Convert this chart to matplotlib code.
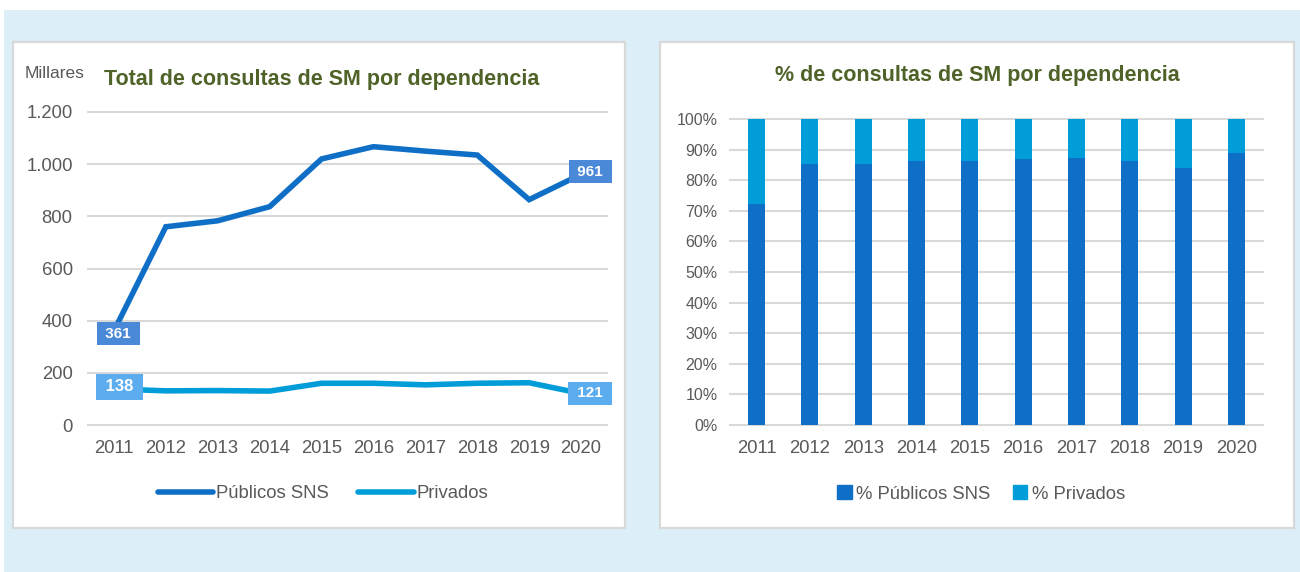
import matplotlib
matplotlib.use("Agg")
import matplotlib.pyplot as plt
from matplotlib.patches import Rectangle, Patch
from matplotlib.lines import Line2D

plt.rcParams['font.family'] = ['Liberation Sans', 'DejaVu Sans']

years = ['2011', '2012', '2013', '2014', '2015', '2016', '2017', '2018', '2019', '2020']
publicos = [361, 760, 783, 837, 1020, 1067, 1050, 1035, 864, 961]
privados = [138, 131, 132, 130, 160, 160, 154, 160, 162, 121]
pct_publicos = [72.3, 85.3, 85.4, 86.2, 86.3, 86.9, 87.2, 86.3, 84.1, 88.8]
pct_privados = [100 - v for v in pct_publicos]
left_yticks = [0, 200, 400, 600, 800, 1000, 1200]
left_yticklabels = ['0', '200', '400', '600', '800', '1.000', '1.200']
right_yticks = [0, 10, 20, 30, 40, 50, 60, 70, 80, 90, 100]
right_yticklabels = ['0%', '10%', '20%', '30%', '40%', '50%', '60%', '70%', '80%', '90%', '100%']

C_PUB = '#0F6FC6'
C_PRI = '#009DD9'
C_GRID = '#D9D9D9'
C_TXT = '#595959'
C_TITLE = '#4F6228'

W, H = 1300, 572
fig = plt.figure(figsize=(W / 100, H / 100), dpi=100)
fig.patch.set_facecolor('white')


def fx(px):
    return px / W


def fy(py):
    return 1 - py / H


# background
fig.add_artist(Rectangle((fx(4), 0), 1 - fx(4), fy(10), transform=fig.transFigure,
                         facecolor='#DCEEF8', edgecolor='none', zorder=-10))
# panels
for (x0, y0, x1, y1) in [(13, 42, 625, 528), (660, 42, 1294, 528)]:
    fig.add_artist(Rectangle((fx(x0), fy(y1)), fx(x1 - x0), (y1 - y0) / H,
                             transform=fig.transFigure, facecolor='white',
                             edgecolor=C_GRID, linewidth=1.6, zorder=-5))

# ---------------- left chart ----------------
ax1 = fig.add_axes([fx(88), fy(425), fx(607 - 88), (425 - 112) / H])
ax1.set_facecolor('none')
x = list(range(len(years)))
ax1.plot(x, publicos, color=C_PUB, lw=4.0, solid_capstyle='round', solid_joinstyle='miter', zorder=3)
ax1.plot(x, privados, color=C_PRI, lw=4.0, solid_capstyle='round', zorder=3)
ax1.set_xlim(-0.5, len(years) - 0.5)
ax1.set_ylim(0, 1200)
ax1.set_yticks(left_yticks)
ax1.set_yticklabels(left_yticklabels)
ax1.set_xticks(x)
ax1.set_xticklabels(years)
ax1.tick_params(axis='both', length=0, labelsize=13.3, colors=C_TXT)
ax1.tick_params(axis='y', pad=11)
ax1.tick_params(axis='x', pad=10.5)
ax1.grid(axis='y', color=C_GRID, lw=1.5, zorder=0)
ax1.set_axisbelow(True)
for s in ax1.spines.values():
    s.set_visible(False)
for gl in ax1.get_ygridlines():
    gl.set_clip_on(False)

lab_kw = dict(ha='center', va='center', color='white', fontweight='bold', zorder=5,
              textcoords='offset points', annotation_clip=False)
ax1.annotate(f' {publicos[0]} ', (0, publicos[0]), xytext=(3, -2), fontsize=11,
             bbox=dict(boxstyle='square,pad=0.3', fc='#4A89D8', ec='none'), **lab_kw)
ax1.annotate(f' {publicos[-1]} ', (9, publicos[-1]), xytext=(6.5, 2), fontsize=11,
             bbox=dict(boxstyle='square,pad=0.3', fc='#4A89D8', ec='none'), **lab_kw)
ax1.annotate(f' {privados[0]} ', (0, privados[0]), xytext=(4, 1.5), fontsize=12,
             bbox=dict(boxstyle='square,pad=0.32', fc='#5BADF0', ec='none'), **lab_kw)
ax1.annotate(f' {privados[-1]} ', (9, privados[-1]), xytext=(6.5, 0), fontsize=11,
             bbox=dict(boxstyle='square,pad=0.3', fc='#5BADF0', ec='none'), **lab_kw)

fig.text(fx(25), fy(74), 'Millares', fontsize=12.5, color=C_TXT, ha='left', va='center')
fig.text(fx(322), fy(80), 'Total de consultas de SM por dependencia', fontsize=15.5,
         fontweight='bold', color=C_TITLE, ha='center', va='center')

h1 = [Line2D([0], [0], color=C_PUB, lw=4.0, solid_capstyle='round'),
      Line2D([0], [0], color=C_PRI, lw=4.0, solid_capstyle='round')]
fig.legend(h1, ['Públicos SNS', 'Privados'], loc='center', bbox_to_anchor=(fx(323), fy(494)),
           ncol=2, frameon=False, fontsize=13.3, handlelength=3.0, handletextpad=0.15,
           columnspacing=1.6, labelcolor=C_TXT)

# ---------------- right chart ----------------
ax2 = fig.add_axes([fx(730), fy(425), fx(1263 - 730), (425 - 119) / H])
ax2.set_facecolor('none')
ax2.bar(x, pct_publicos, width=0.32, color=C_PUB, zorder=3)
ax2.bar(x, pct_privados, width=0.32, bottom=pct_publicos, color=C_PRI, zorder=3)
ax2.set_xlim(-0.5, len(years) - 0.5)
ax2.set_ylim(0, 100)
ax2.set_yticks(right_yticks)
ax2.set_yticklabels(right_yticklabels)
ax2.set_xticks(x)
ax2.set_xticklabels(years)
ax2.tick_params(axis='both', length=0, colors=C_TXT)
ax2.tick_params(axis='y', pad=9, labelsize=11.5)
ax2.tick_params(axis='x', pad=10.5, labelsize=13.3)
ax2.grid(axis='y', color=C_GRID, lw=1.5, zorder=0)
ax2.set_axisbelow(True)
for s in ax2.spines.values():
    s.set_visible(False)
for gl in ax2.get_ygridlines():
    gl.set_clip_on(False)

fig.text(fx(977), fy(75), '% de consultas de SM por dependencia', fontsize=15.5,
         fontweight='bold', color=C_TITLE, ha='center', va='center')

h2 = [Patch(color=C_PUB), Patch(color=C_PRI)]
fig.legend(h2, ['% Públicos SNS', '% Privados'], loc='center', bbox_to_anchor=(fx(981), fy(494)),
           ncol=2, frameon=False, fontsize=13.3, handlelength=0.8, handleheight=0.8,
           handletextpad=0.25, columnspacing=1.2, labelcolor=C_TXT)

fig.savefig('out.png', dpi=100)
